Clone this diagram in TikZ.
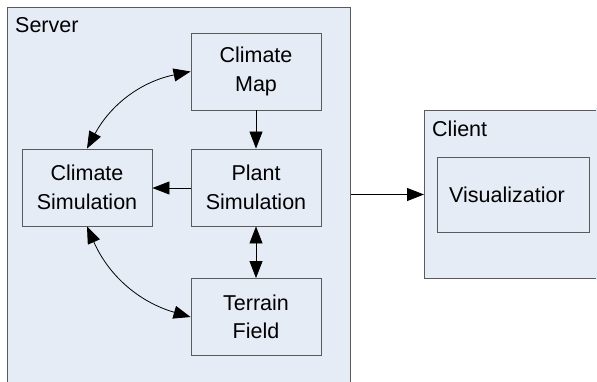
\documentclass[tikz,border=0pt]{standalone}
\usepackage{fontspec}
\setmainfont{Liberation Sans}
\usetikzlibrary{arrows.meta}
\definecolor{panelfill}{HTML}{E6ECF6}
\definecolor{boxline}{HTML}{5A5A5A}
\tikzset{
  panel/.style={draw=boxline, fill=panelfill, line width=1pt, anchor=north west, inner sep=0pt},
  blockbox/.style={draw=boxline, line width=0.9pt, minimum width=130pt, minimum height=77pt, align=center, inner sep=0pt,
    font=\fontsize{21.5pt}{28.5pt}\selectfont},
  conn/.style={line width=0.8pt, -{Triangle[length=17pt,width=13pt]}},
  biconn/.style={line width=0.8pt, {Triangle[length=17pt,width=13pt]}-{Triangle[length=17pt,width=13pt]}},
  lbl/.style={font=\fontsize{21.5pt}{28.5pt}\selectfont, inner sep=0pt, anchor=base west}
}
\begin{document}
\begin{tikzpicture}[x=1pt,y=-1pt]
\useasboundingbox (0,0) rectangle (597,381);
\clip (0,0) rectangle (597,381);
\node[panel, minimum width=343pt, minimum height=390pt] (server) at (7,7) {};
\node[panel, minimum width=190pt, minimum height=168pt] (client) at (424,110) {};
\draw[panelfill, line width=1.2pt] (597,108) -- (597,280);
\node[lbl] (servertxt) at (15,32) {Server};
\node[lbl] (clienttxt) at (432,136) {Client};
\node[blockbox] (cmap) at (256,71.5) {Climate\\Map};
\node[blockbox] (csim) at (87,187.5) {Climate\\Simulation};
\node[blockbox] (psim) at (256,187.5) {Plant\\Simulation};
\node[blockbox] (terr) at (256,317) {Terrain\\Field};
\node[draw=boxline, line width=0.9pt, minimum width=152pt, minimum height=75pt, inner sep=0pt] (visbox) at (513,194.5) {};
\node[lbl] (vistxt) at (449,202) {Visualizatior};
\draw[biconn] (csim.north) to[bend left=25] (cmap.west);
\draw[conn] (cmap.south) -- (psim.north);
\draw[conn] (psim.west |- 0,188) -- (csim.east |- 0,188);
\draw[biconn] (psim.south) -- (terr.north);
\draw[biconn] (csim.south) to[bend right=25] (terr.west);
\draw[conn] (server.east |- client.west) -- (client.west);
\end{tikzpicture}
\end{document}
